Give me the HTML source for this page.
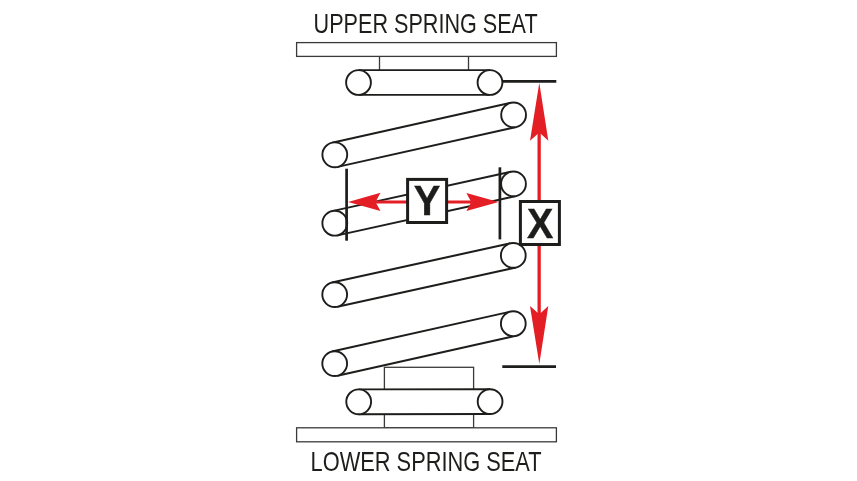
<!DOCTYPE html>
<html><head><meta charset="utf-8"><style>
html,body{margin:0;padding:0;background:#fff;width:857px;height:481px;overflow:hidden}
svg{display:block;will-change:transform}
text{font-family:"Liberation Sans",sans-serif}
</style></head><body>
<svg width="857" height="481" viewBox="0 0 857 481">
<line x1="379.5" y1="56" x2="379.5" y2="70" stroke="#3a3a3a" stroke-width="1.3"/>
<line x1="468.5" y1="56" x2="468.5" y2="70" stroke="#3a3a3a" stroke-width="1.3"/>
<rect x="296.6" y="42.6" width="259.8" height="13.8" fill="#fff" stroke="#3a3a3a" stroke-width="1.3"/>
<rect x="384.4" y="367.3" width="89.2" height="60.5" fill="none" stroke="#3a3a3a" stroke-width="1.3"/>
<rect x="296.6" y="427.8" width="259.8" height="14" fill="#fff" stroke="#3a3a3a" stroke-width="1.3"/>
<polygon points="358.50,94.90 490.00,94.90 490.00,70.10 358.50,70.10" fill="#fff" stroke="none"/>
<line x1="358.50" y1="94.90" x2="490.00" y2="94.90" stroke="#1d1d1b" stroke-width="1.9"/>
<line x1="358.50" y1="70.10" x2="490.00" y2="70.10" stroke="#1d1d1b" stroke-width="1.9"/>
<circle cx="358.5" cy="82.5" r="12.4" fill="#fff" stroke="#1d1d1b" stroke-width="1.9"/>
<circle cx="490.0" cy="82.5" r="12.4" fill="#fff" stroke="#1d1d1b" stroke-width="1.9"/>
<line x1="502" y1="81.3" x2="556.3" y2="81.3" stroke="#1d1d1b" stroke-width="2.7"/>
<polygon points="337.50,166.90 516.30,127.00 510.90,102.80 332.10,142.70" fill="#fff" stroke="none"/>
<line x1="337.50" y1="166.90" x2="516.30" y2="127.00" stroke="#1d1d1b" stroke-width="1.9"/>
<line x1="332.10" y1="142.70" x2="510.90" y2="102.80" stroke="#1d1d1b" stroke-width="1.9"/>
<circle cx="334.8" cy="154.8" r="12.4" fill="#fff" stroke="#1d1d1b" stroke-width="1.9"/>
<circle cx="513.6" cy="114.9" r="12.4" fill="#fff" stroke="#1d1d1b" stroke-width="1.9"/>
<polygon points="337.46,235.31 516.16,196.01 510.84,171.79 332.14,211.09" fill="#fff" stroke="none"/>
<line x1="337.46" y1="235.31" x2="516.16" y2="196.01" stroke="#1d1d1b" stroke-width="1.9"/>
<line x1="332.14" y1="211.09" x2="510.84" y2="171.79" stroke="#1d1d1b" stroke-width="1.9"/>
<circle cx="334.8" cy="223.2" r="12.4" fill="#fff" stroke="#1d1d1b" stroke-width="1.9"/>
<circle cx="513.5" cy="183.9" r="12.4" fill="#fff" stroke="#1d1d1b" stroke-width="1.9"/>
<polygon points="337.36,306.71 515.96,267.51 510.64,243.29 332.04,282.49" fill="#fff" stroke="none"/>
<line x1="337.36" y1="306.71" x2="515.96" y2="267.51" stroke="#1d1d1b" stroke-width="1.9"/>
<line x1="332.04" y1="282.49" x2="510.64" y2="243.29" stroke="#1d1d1b" stroke-width="1.9"/>
<circle cx="334.7" cy="294.6" r="12.4" fill="#fff" stroke="#1d1d1b" stroke-width="1.9"/>
<circle cx="513.3" cy="255.4" r="12.4" fill="#fff" stroke="#1d1d1b" stroke-width="1.9"/>
<polygon points="337.40,375.70 516.00,335.80 510.60,311.60 332.00,351.50" fill="#fff" stroke="none"/>
<line x1="337.40" y1="375.70" x2="516.00" y2="335.80" stroke="#1d1d1b" stroke-width="1.9"/>
<line x1="332.00" y1="351.50" x2="510.60" y2="311.60" stroke="#1d1d1b" stroke-width="1.9"/>
<circle cx="334.7" cy="363.6" r="12.4" fill="#fff" stroke="#1d1d1b" stroke-width="1.9"/>
<circle cx="513.3" cy="323.7" r="12.4" fill="#fff" stroke="#1d1d1b" stroke-width="1.9"/>
<polygon points="358.72,414.20 490.12,414.00 490.08,389.20 358.68,389.40" fill="#fff" stroke="none"/>
<line x1="358.72" y1="414.20" x2="490.12" y2="414.00" stroke="#1d1d1b" stroke-width="1.9"/>
<line x1="358.68" y1="389.40" x2="490.08" y2="389.20" stroke="#1d1d1b" stroke-width="1.9"/>
<circle cx="358.7" cy="401.8" r="12.4" fill="#fff" stroke="#1d1d1b" stroke-width="1.9"/>
<circle cx="490.1" cy="401.6" r="12.4" fill="#fff" stroke="#1d1d1b" stroke-width="1.9"/>
<line x1="502.3" y1="366.7" x2="556" y2="366.7" stroke="#1d1d1b" stroke-width="2.7"/>
<line x1="346.6" y1="168.7" x2="346.6" y2="240.7" stroke="#1d1d1b" stroke-width="2.7"/>
<line x1="499.9" y1="167.3" x2="499.9" y2="239.4" stroke="#1d1d1b" stroke-width="2.7"/>
<line x1="365" y1="202" x2="482" y2="202" stroke="#e31e25" stroke-width="3.1"/>
<polygon points="348.1,201.9 380.5,192.7 375.5,201.9 380.5,211.0" fill="#e31e25"/>
<polygon points="498.6,201.9 466.4,193.0 471.2,201.9 466.4,211.1" fill="#e31e25"/>
<rect x="407.6" y="179.4" width="39" height="43.1" fill="#fff" stroke="#1d1d1b" stroke-width="3"/>
<text transform="translate(427.1,215.2) scale(0.95,1)" x="0" y="0" font-family="Liberation Sans" font-weight="bold" font-size="42" text-anchor="middle" fill="#1d1d1b" stroke="#1d1d1b" stroke-width="0.4">Y</text>
<line x1="539.15" y1="125" x2="539.15" y2="322" stroke="#e31e25" stroke-width="3.3"/>
<polygon points="539.3,82.8 548.3,140.7 539.3,132.5 530,140.7" fill="#e31e25"/>
<polygon points="539.3,364 548.3,306 539.3,314.3 530,306" fill="#e31e25"/>
<rect x="520.4" y="201.5" width="39" height="43" fill="#fff" stroke="#1d1d1b" stroke-width="3"/>
<text transform="translate(540.2,238) scale(0.94,1)" x="0" y="0" font-family="Liberation Sans" font-weight="bold" font-size="42" text-anchor="middle" fill="#1d1d1b" stroke="#1d1d1b" stroke-width="0.4">X</text>
<text x="313.6" y="32.8" font-family="Liberation Sans" font-size="27.6" textLength="224" lengthAdjust="spacingAndGlyphs" fill="#1d1d1b">UPPER SPRING SEAT</text>
<text x="310.6" y="471" font-family="Liberation Sans" font-size="27.6" textLength="231" lengthAdjust="spacingAndGlyphs" fill="#1d1d1b">LOWER SPRING SEAT</text>
</svg>
</body></html>
